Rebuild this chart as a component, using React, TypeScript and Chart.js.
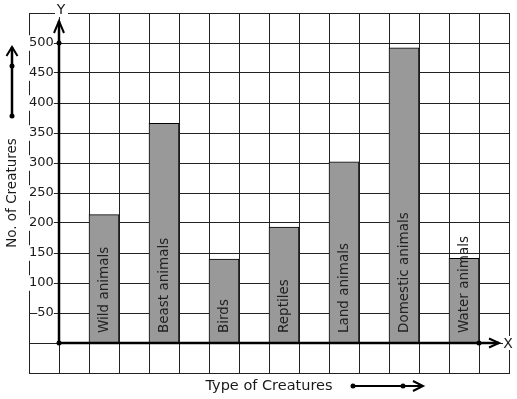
import React, { useEffect, useRef } from "react";
import { Chart, registerables } from "chart.js";

Chart.register(...registerables);

const categories = [
  "Wild animals",
  "Beast animals",
  "Birds",
  "Reptiles",
  "Land animals",
  "Domestic animals",
  "Water animals",
];
const creatureCounts = [214, 366, 140, 193, 302, 492, 141];
const yMin = -50;
const yMax = 550;
const yStep = 50;
const yLabelFrom = 50;
const yLabelTo = 500;
const slotCount = 16; // grid columns
const firstBarSlot = 2;
const yAxisTitle = "No. of Creatures";
const xAxisTitle = "Type of Creatures";

const FONT = "'DejaVu Sans', 'Liberation Sans', sans-serif";
const INK = "#1a1a1a";

function buildSlots() {
  const labels: string[] = [];
  const values: (number | null)[] = [];
  for (let s = 0; s < slotCount; s++) {
    labels.push("");
    values.push(null);
  }
  categories.forEach((c, i) => {
    const s = firstBarSlot + i * 2;
    labels[s] = c;
    values[s] = creatureCounts[i];
  });
  return { labels, values };
}

function dot(ctx: CanvasRenderingContext2D, x: number, y: number, r = 2.5) {
  ctx.beginPath();
  ctx.arc(x, y, r, 0, Math.PI * 2);
  ctx.fill();
}

function chevron(
  ctx: CanvasRenderingContext2D,
  tx: number,
  ty: number,
  dir: "up" | "right",
  depth: number,
  half: number
) {
  ctx.beginPath();
  if (dir === "up") {
    ctx.moveTo(tx - half, ty + depth);
    ctx.lineTo(tx, ty);
    ctx.lineTo(tx + half, ty + depth);
  } else {
    ctx.moveTo(tx - depth, ty - half);
    ctx.lineTo(tx, ty);
    ctx.lineTo(tx - depth, ty + half);
  }
  ctx.stroke();
}

const decorPlugin = {
  id: "decor",
  afterDatasetsDraw(chart: any) {
    const { ctx, chartArea } = chart;
    const xs = chart.scales.x;
    const ys = chart.scales.y;
    const ax = xs.getPixelForValue(firstBarSlot - 1.5);
    const y0 = ys.getPixelForValue(0);
    const yTop = ys.getPixelForValue(yLabelTo);
    const lastX = xs.getPixelForValue(firstBarSlot + (categories.length - 1) * 2 + 0.5);

    ctx.save();
    ctx.strokeStyle = "#000";
    ctx.fillStyle = "#000";
    ctx.lineCap = "butt";

    // bar labels
    const meta = chart.getDatasetMeta(0);
    ctx.font = `13.5px ${FONT}`;
    ctx.fillStyle = "#222";
    ctx.textAlign = "left";
    ctx.textBaseline = "middle";
    meta.data.forEach((el: any, i: number) => {
      const lab = chart.data.labels[i];
      if (!lab) return;
      ctx.save();
      ctx.translate(el.x, y0 - 10);
      ctx.rotate(-Math.PI / 2);
      ctx.fillText(lab, 0, 0);
      ctx.restore();
    });

    ctx.fillStyle = "#000";
    // y axis
    ctx.lineWidth = 2.5;
    ctx.beginPath();
    ctx.moveTo(ax, y0);
    ctx.lineTo(ax, chartArea.top + 8);
    ctx.stroke();
    ctx.lineWidth = 2;
    chevron(ctx, ax, chartArea.top + 8, "up", 12, 5);
    // x axis
    ctx.lineWidth = 2.5;
    ctx.beginPath();
    ctx.moveTo(ax, y0);
    ctx.lineTo(chartArea.right - 10, y0);
    ctx.stroke();
    ctx.lineWidth = 2;
    chevron(ctx, chartArea.right - 10, y0, "right", 10, 4.5);
    dot(ctx, ax, y0);
    dot(ctx, ax, yTop);
    dot(ctx, lastX, y0);

    // axis letters
    ctx.font = `14px ${FONT}`;
    ctx.textAlign = "center";
    ctx.textBaseline = "middle";
    ctx.fillStyle = "#fff";
    ctx.fillRect(ax - 4, chartArea.top - 10, 13, 14);
    ctx.fillRect(chartArea.right - 6, y0 - 7, 10, 14);
    ctx.fillStyle = INK;
    ctx.fillText("Y", ax + 2, chartArea.top - 3);
    ctx.fillText("X", chartArea.right - 1, y0 + 1);

    // y title with arrow
    ctx.font = `13.5px ${FONT}`;
    ctx.save();
    ctx.translate(12.5, 193);
    ctx.rotate(-Math.PI / 2);
    ctx.fillText(yAxisTitle, 0, 0);
    ctx.restore();
    ctx.fillStyle = "#000";
    ctx.lineWidth = 2.5;
    ctx.beginPath();
    ctx.moveTo(12, 116);
    ctx.lineTo(12, 47);
    ctx.stroke();
    ctx.lineWidth = 2;
    chevron(ctx, 12, 47, "up", 9, 5.5);
    dot(ctx, 12, 66);
    dot(ctx, 12, 116);

    // x title with arrow
    ctx.font = `14.5px ${FONT}`;
    ctx.fillStyle = INK;
    ctx.fillText(xAxisTitle, 269, 386);
    ctx.fillStyle = "#000";
    ctx.lineWidth = 2;
    ctx.beginPath();
    ctx.moveTo(353, 386);
    ctx.lineTo(423, 386);
    ctx.stroke();
    chevron(ctx, 423, 386, "right", 10, 5);
    dot(ctx, 353, 386);
    dot(ctx, 403, 386);

    ctx.restore();
  },
};

export default function App() {
  const ref = useRef<HTMLCanvasElement | null>(null);
  useEffect(() => {
    if (!ref.current) return;
    Chart.defaults.font.family = FONT;
    Chart.defaults.font.size = 13;
    Chart.defaults.color = INK;
    const { labels, values } = buildSlots();
    const chart = new Chart(ref.current, {
      type: "bar",
      data: {
        labels,
        datasets: [
          {
            data: values,
            backgroundColor: "#999999",
            borderColor: "#000",
            borderWidth: 1,
            borderSkipped: "bottom",
            categoryPercentage: 1,
            barPercentage: 1,
          },
        ],
      },
      options: {
        animation: false,
        responsive: false,
        layout: { padding: { left: 29, right: 8, top: 13, bottom: 26 } },
        plugins: {
          legend: { display: false },
          tooltip: { enabled: false },
        },
        scales: {
          x: {
            type: "category",
            offset: true,
            ticks: { display: false },
            grid: { color: "#222", lineWidth: 1, drawTicks: false, offset: true },
            border: { color: "#222", width: 1 },
          },
          y: {
            type: "linear",
            min: yMin,
            max: yMax,
            ticks: {
              stepSize: yStep,
              mirror: true,
              crossAlign: "far",
              padding: 0,
              color: INK,
              font: { size: 13, family: FONT },
              showLabelBackdrop: true,
              backdropColor: "#fff",
              backdropPadding: { top: 0, bottom: 0, left: 0, right: 0 },
              callback: (v: any) =>
                v >= yLabelFrom && v <= yLabelTo ? String(v) : "",
            },
            grid: { color: "#222", lineWidth: 1, drawTicks: false },
            border: { color: "#222", width: 1 },
          },
        },
      },
      plugins: [decorPlugin],
    });
    return () => chart.destroy();
  }, []);
  return (
    <div style={{ position: "absolute", left: 0, top: 0, width: 517, height: 399, background: "#fff" }}>
      <canvas ref={ref} width={517} height={399} style={{ display: "block" }} />
    </div>
  );
}
